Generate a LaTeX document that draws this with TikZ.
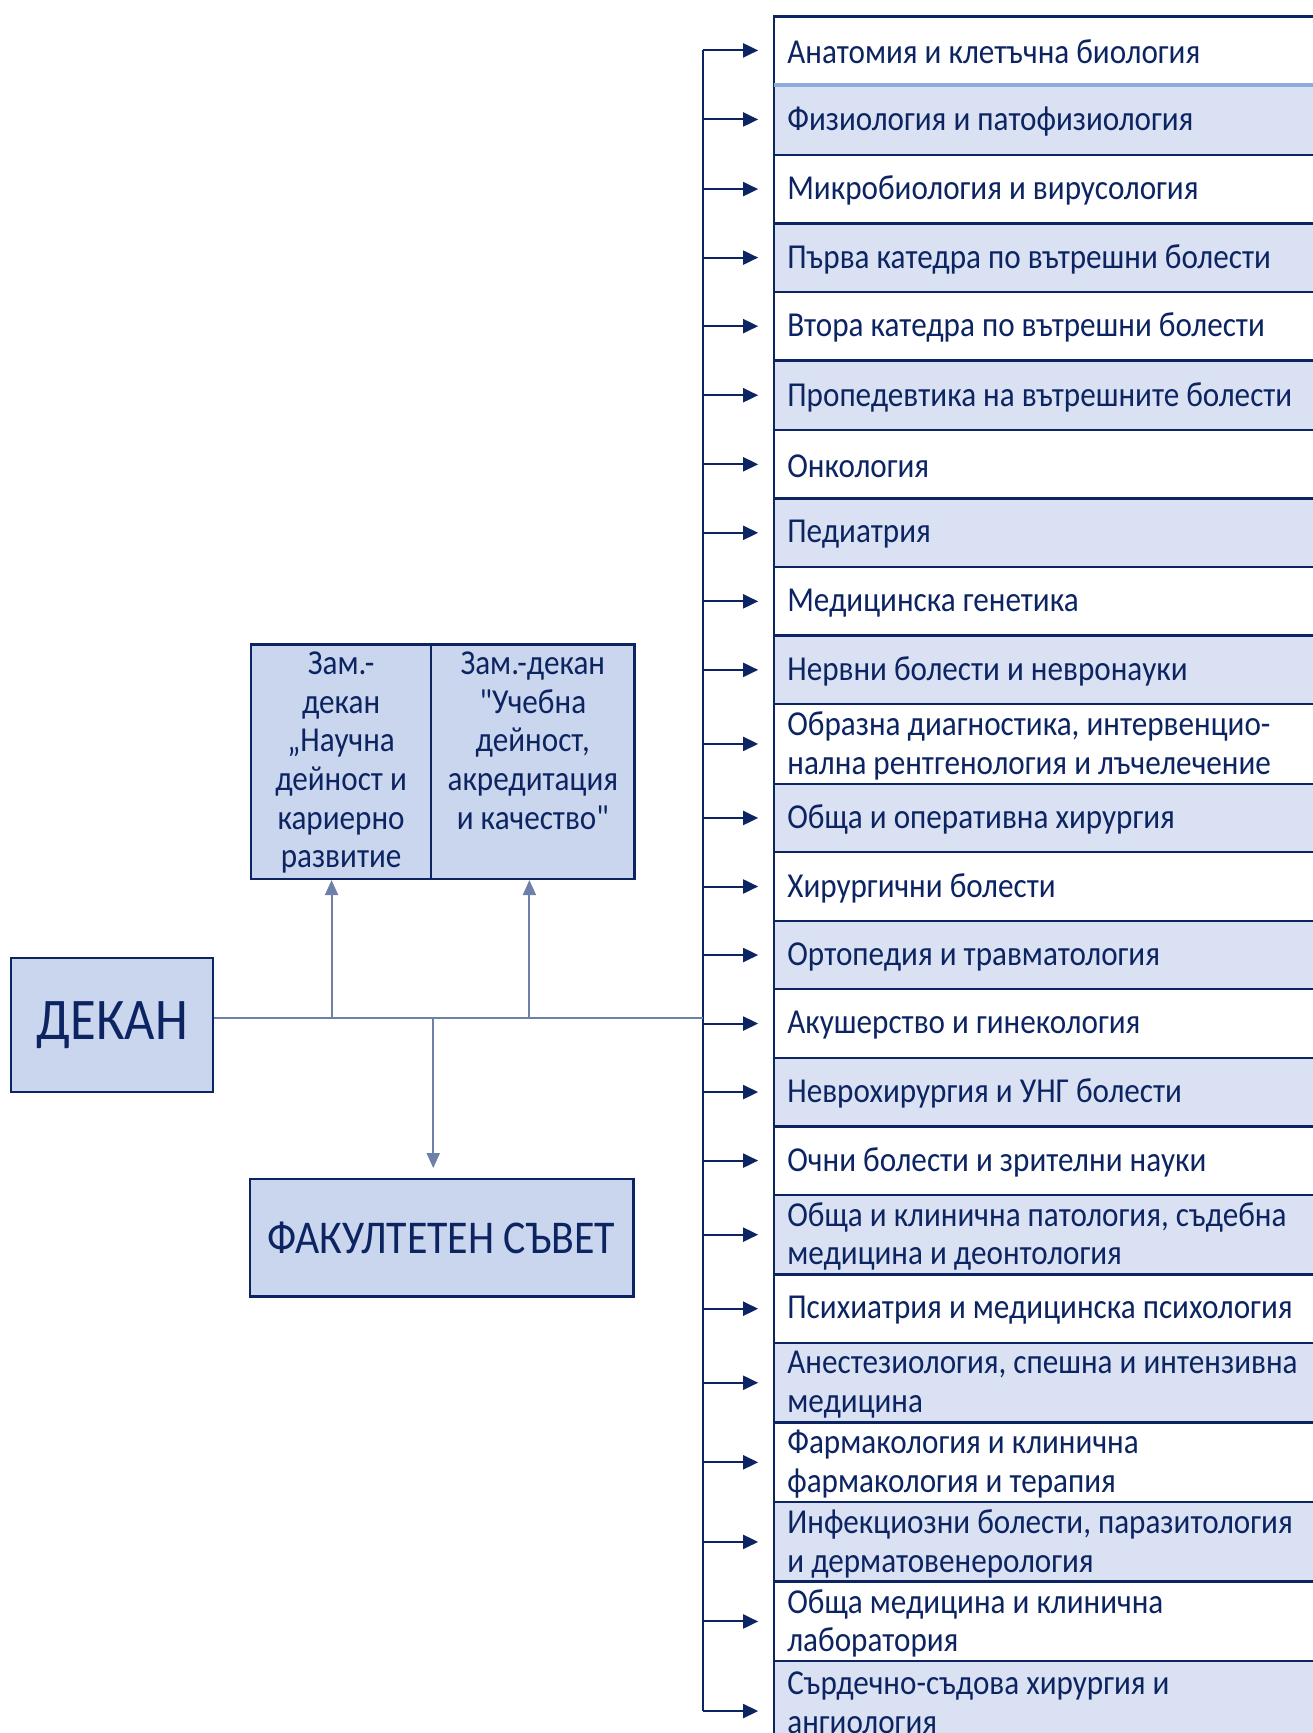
\documentclass[tikz,border=0pt]{standalone}
\usepackage{fontspec}
\setmainfont{Carlito}[FakeStretch=0.89, Ligatures=TeXOff]
\usetikzlibrary{arrows.meta}
\definecolor{navy}{HTML}{0C2462}
\definecolor{boxblue}{HTML}{CAD6EE}
\definecolor{rowblue}{HTML}{D9E1F2}
\definecolor{linkgrey}{HTML}{6D80A7}
\definecolor{seplight}{HTML}{8FAADC}
\newcommand\deptrow[5]{%
  \node[#2, minimum height={(#4-#3)*0.5526pt}] (#1) at (699,#3) {};
  \node[depttext] (#1t) at ([xshift=7.2pt,yshift=-0.9pt]#1.west) {#5};}
\tikzset{
  deptbox/.style={draw=navy, line width=1.2pt, anchor=north west, minimum width=274.1pt,
    inner sep=0pt},
  depttext/.style={anchor=west, text width=259.7pt, align=flush left, inner sep=0pt,
    text=navy, font=\fontsize{17.5pt}{19.34pt}\selectfont},
  deptwhite/.style={deptbox, fill=white},
  deptblue/.style={deptbox, fill=rowblue},
  leadbox/.style={draw=navy, line width=1.2pt, fill=boxblue, text=navy, inner sep=0pt},
  zamtext/.style={text=navy, align=center, inner sep=0pt, anchor=north,
    font=\fontsize{17.5pt}{19.34pt}\selectfont},
  deptarrow/.style={draw=navy, line width=1pt, -{Triangle[length=7.5pt,width=7pt]}, shorten >=7.2pt},
  busline/.style={draw=navy, line width=1pt},
  linkline/.style={draw=linkgrey, line width=1pt},
  linkarrow/.style={linkline, -{Triangle[length=7.5pt,width=6.5pt]}}
}
\begin{document}
\begin{tikzpicture}[x=0.5526pt,y=-0.5526pt]
\useasboundingbox (0,0) rectangle (1188,1568);
% department rows
\deptrow{r1}{deptwhite}{14}{75}{Анатомия и клетъчна биология}
\deptrow{r2}{deptblue}{75}{139}{Физиология и патофизиология}
\deptrow{r3}{deptwhite}{139}{201}{Микробиология и вирусология}
\deptrow{r4}{deptblue}{201}{263}{Първа катедра по вътрешни болести}
\deptrow{r5}{deptwhite}{263}{325}{Втора катедра по вътрешни болести}
\deptrow{r6}{deptblue}{325}{388}{Пропедевтика на вътрешните болести}
\deptrow{r7}{deptwhite}{388}{450}{Онкология}
\deptrow{r8}{deptblue}{450}{512}{Педиатрия}
\deptrow{r9}{deptwhite}{512}{574}{Медицинска генетика}
\deptrow{r10}{deptblue}{574}{636}{Нервни болести и невронауки}
\deptrow{r11}{deptwhite}{636}{708}{Образна диагностика, интервенцио-\\нална рентгенология и лъчелечение}
\deptrow{r12}{deptblue}{708}{770}{Обща и оперативна хирургия}
\deptrow{r13}{deptwhite}{770}{832}{Хирургични болести}
\deptrow{r14}{deptblue}{832}{894}{Ортопедия и травматология}
\deptrow{r15}{deptwhite}{894}{956}{Акушерство и гинекология}
\deptrow{r16}{deptblue}{956}{1018}{Неврохирургия и УНГ болести}
\deptrow{r17}{deptwhite}{1018}{1080}{Очни болести и зрителни науки}
\deptrow{r18}{deptblue}{1080}{1152}{Обща и клинична патология, съдебна\\медицина и деонтология}
\deptrow{r19}{deptwhite}{1152}{1214}{Психиатрия и медицинска психология}
\deptrow{r20}{deptblue}{1214}{1286}{Анестезиология, спешна и интензивна\\медицина}
\deptrow{r21}{deptwhite}{1286}{1358}{Фармакология и клинична\\фармакология и терапия}
\deptrow{r22}{deptblue}{1358}{1430}{Инфекциозни болести, паразитология\\и дерматовенерология}
\deptrow{r23}{deptwhite}{1430}{1502}{Обща медицина и клинична\\лаборатория}
\deptrow{r24}{deptblue}{1502}{1574}{Сърдечно-съдова хирургия и\\ангиология}
\draw[seplight, line width=2pt] ([xshift=0.6pt]r1.south west) -- (r1.south east);
% bus and arrows
\coordinate (hub) at (636,921);
\draw[busline] (r1.west -| hub) -- ([yshift=-5pt]r24.west -| hub);
\foreach \r in {r1,r2,r3,r4,r5,r6,r7,r8,r9,r10,r11,r12,r13,r14,r15,r16,r17,r18,r19,r20,r21,r22,r23}{
  \draw[deptarrow] (\r.west -| hub) -- (\r.west);
}
\draw[deptarrow] ([yshift=-5pt]r24.west -| hub) -- ([yshift=-5pt]r24.west);
% leadership boxes
\node[leadbox, minimum width=101.1pt, minimum height=66.9pt,
  font=\fontsize{29.5pt}{32pt}\selectfont] (dekan) at (101.5,927.5) {\raisebox{-1.5pt}{ДЕКАН}};
\node[leadbox, anchor=north west, minimum width=90.1pt, minimum height=117.2pt] (z1) at (226,582) {};
\node[leadbox, anchor=north west, minimum width=101.7pt, minimum height=117.2pt] (z2) at (389,582) {};
\node[zamtext] (z1t) at ([yshift=-4pt]z1.north) {Зам.-\\декан\\„Научна\\дейност и\\кариерно\\развитие};
\node[zamtext] (z2t) at ([yshift=-4pt]z2.north) {Зам.-декан\\"Учебна\\дейност,\\акредитация\\и качество"};
\node[leadbox, minimum width=191.8pt, minimum height=58.6pt,
  font=\fontsize{23.5pt}{26pt}\selectfont] (council) at (399.5,1120) {ФАКУЛТЕТЕН СЪВЕТ};
% links
\coordinate (j1) at (300,921);
\coordinate (j2) at (479,921);
\coordinate (j3) at (392,921);
\draw[linkline] (dekan.east |- hub) -- (hub);
\draw[linkarrow] (j1) -- (j1 |- z1.south);
\draw[linkarrow] (j2) -- (j2 |- z2.south);
\draw[linkarrow, shorten >=5pt] (j3) -- (j3 |- council.north);
\end{tikzpicture}
\end{document}
